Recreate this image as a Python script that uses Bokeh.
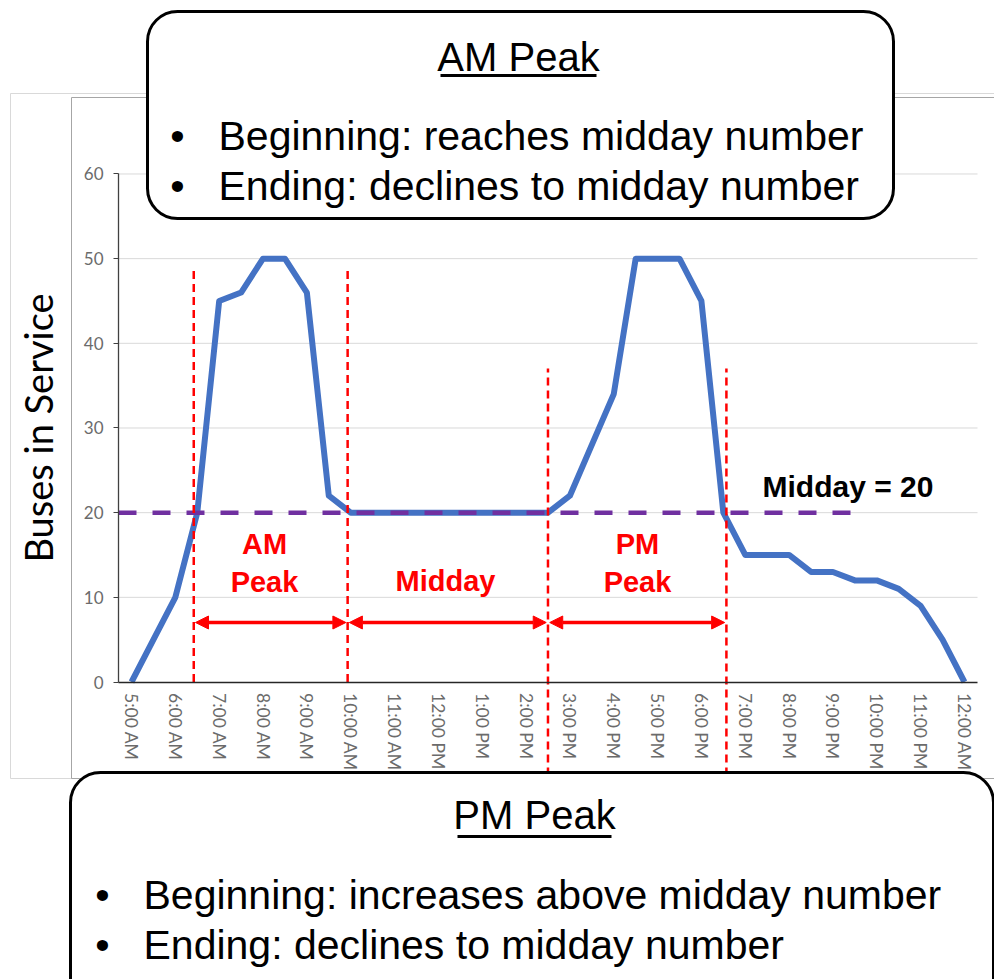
from bokeh.plotting import figure
from bokeh.models import (Range1d, LinearAxis, FixedTicker, BoxAnnotation, Label,
                          Arrow, NormalHead)
from bokeh.embed import file_html
from bokeh.resources import INLINE

# ---------------- data ----------------
hours = [5.0, 5.5, 6.0, 6.5, 7.0, 7.5, 8.0, 8.5, 9.0, 9.5, 10.0, 10.5, 11.0, 11.5,
         12.0, 12.5, 13.0, 13.5, 14.0, 14.5, 15.0, 15.5, 16.0, 16.5, 17.0, 17.5,
         18.0, 18.5, 19.0, 19.5, 20.0, 20.5, 21.0, 21.5, 22.0, 22.5, 23.0, 23.5, 24.0]
buses = [0, 5, 10, 20, 45, 46, 50, 50, 46, 22, 20, 20, 20, 20,
         20, 20, 20, 20, 20, 20, 22, 28, 34, 50, 50, 50,
         45, 20, 15, 15, 15, 13, 13, 12, 12, 11, 9, 5, 0]
tick_hours = [5, 6, 7, 8, 9, 10, 11, 12, 13, 14, 15, 16, 17, 18, 19, 20, 21, 22, 23, 24]
tick_labels = ["5:00 AM", "6:00 AM", "7:00 AM", "8:00 AM", "9:00 AM", "10:00 AM",
               "11:00 AM", "12:00 PM", "1:00 PM", "2:00 PM", "3:00 PM", "4:00 PM",
               "5:00 PM", "6:00 PM", "7:00 PM", "8:00 PM", "9:00 PM", "10:00 PM",
               "11:00 PM", "12:00 AM"]
y_ticks = [0, 10, 20, 30, 40, 50, 60]
midday_value = 20
period_bounds = [6.42, 9.93, 14.5, 18.57]
period_labels = [["AM", "Peak"], ["Midday"], ["PM", "Peak"]]

am_title = "AM Peak"
am_bullets = ["Beginning: reaches midday number", "Ending: declines to midday number"]
pm_title = "PM Peak"
pm_bullets = ["Beginning: increases above midday number", "Ending: declines to midday number"]

# ---------------- layout helpers (page pixels -> data) ----------------
W, H = 994, 979
OFF = 0
X5, PXH = 131.0, 43.84      # page x of 5:00 AM, pixels per hour
Y0, PXU = 681.5, 8.467      # page y of 0 buses, pixels per bus


def hx(px):
    return 5 + (px - X5) / PXH


def vy(py):
    return (Y0 - py) / PXU


def by(base, fs):
    # label anchor for a desired alphabetic baseline at page y "base"
    return vy(base - 0.38 * fs)


p = figure(width=W, height=H,
           x_range=Range1d(hx(OFF), hx(OFF + W)),
           y_range=Range1d(vy(OFF + H), vy(OFF)),
           output_backend="svg", toolbar_location=None, min_border=0,
           x_axis_type=None, y_axis_type=None)
p.outline_line_color = None
p.background_fill_color = "white"
p.border_fill_color = "white"

# chart-area frames
p.quad(left=[hx(10)], right=[hx(1010)], top=[vy(93)], bottom=[vy(778)],
       fill_color=None, line_color="#d9d9d9", line_width=1)
p.quad(left=[hx(71)], right=[hx(1010)], top=[vy(97)], bottom=[vy(778)],
       fill_color=None, line_color="#a6a6a6", line_width=1)

# gridlines
gy = y_ticks[1:]
p.segment(x0=[hx(118)] * len(gy), x1=[hx(977)] * len(gy), y0=gy, y1=gy,
          line_color="#d9d9d9", line_width=1)

# axes
yax = LinearAxis(fixed_location=hx(118), bounds=(y_ticks[0], y_ticks[-1]),
                 ticker=FixedTicker(ticks=y_ticks),
                 axis_label="Buses in Service")
yax.axis_line_color = "#404040"
yax.axis_line_width = 1.3
yax.major_tick_out = 5
yax.major_tick_in = 0
yax.major_tick_line_color = "#404040"
yax.minor_tick_line_color = None
yax.major_label_text_font = "Lato"
yax.major_label_text_font_size = "17px"
yax.major_label_text_color = "#6b6b6b"
yax.major_label_standoff = 10
yax.axis_label_text_font = "Lato"
yax.axis_label_text_font_size = "38px"
yax.axis_label_text_font_style = "normal"
yax.axis_label_text_color = "black"
yax.axis_label_standoff = 20
p.add_layout(yax, "left")

xax = LinearAxis(fixed_location=0, bounds=(hx(118), hx(977)),
                 ticker=FixedTicker(ticks=tick_hours),
                 major_label_overrides={h: l for h, l in zip(tick_hours, tick_labels)},
                 major_label_orientation="vertical")
xax.axis_line_color = "#262626"
xax.axis_line_width = 1.6
xax.major_tick_line_color = None
xax.minor_tick_line_color = None
xax.major_label_text_font = "Lato"
xax.major_label_text_font_size = "17.5px"
xax.major_label_text_color = "#6b6b6b"
xax.major_label_standoff = 5
p.add_layout(xax, "below")

# data line
p.line(hours, buses, line_color="#4472C4", line_width=6, line_join="round")

# midday reference line
p.line([hx(118), hx(862)], [midday_value, midday_value], line_color="#7030A0",
       line_width=4.5, line_dash="18 16")
p.add_layout(Label(x=hx(762), y=by(497, 30), text=f"Midday = {midday_value}",
                   text_font="Liberation Sans", text_font_size="30px",
                   text_font_style="bold", text_color="black",
                   text_align="left", text_baseline="alphabetic"))

# period boundaries
tops = [vy(270), vy(270), vy(368), vy(368)]
bots = [0, 0, vy(775), vy(775)]
p.segment(x0=period_bounds, x1=period_bounds, y0=bots, y1=tops,
          line_color="#FF0000", line_width=2.5, line_dash="8 5")

ay = vy(622)
for i in range(3):
    p.add_layout(Arrow(x_start=period_bounds[i] + 0.04, x_end=period_bounds[i + 1] - 0.04,
                       y_start=ay, y_end=ay, line_color="#FF0000", line_width=3.5,
                       start=NormalHead(size=13, fill_color="#FF0000", line_color="#FF0000"),
                       end=NormalHead(size=13, fill_color="#FF0000", line_color="#FF0000")))

label_cx = [264, 445, 637]
for cx, lines in zip(label_cx, period_labels):
    bases = [592] if len(lines) == 1 else [555, 593]
    for txt, b in zip(lines, bases):
        p.add_layout(Label(x=hx(cx), y=by(b, 29), text=txt, text_font="Liberation Sans",
                           text_font_size="29px", text_font_style="bold",
                           text_color="#FF0000", text_align="center",
                           text_baseline="alphabetic"))

# callout boxes
FONT = "Liberation Sans"
FS_T = 40
FS_B = 41


def callout(left, right, top, bottom, title, title_cx, title_base, ul, bullets,
            bx, tx, bases):
    p.add_layout(BoxAnnotation(left=hx(left), right=hx(right), top=vy(top),
                               bottom=vy(bottom), fill_color="white", fill_alpha=1.0,
                               line_color="black", line_alpha=1.0, line_width=3,
                               border_radius=30))
    p.add_layout(Label(x=hx(title_cx), y=by(title_base, FS_T), text=title, text_font=FONT,
                       text_font_size=f"{FS_T}px", text_color="black", text_align="center",
                       text_baseline="alphabetic"))
    p.segment(x0=[hx(ul[0])], x1=[hx(ul[1])], y0=[vy(ul[2])], y1=[vy(ul[2])],
              line_color="black", line_width=3, level="overlay")
    for txt, b in zip(bullets, bases):
        p.add_layout(Label(x=hx(bx), y=by(b, FS_B), text="\u2022", text_font=FONT,
                           text_font_size=f"{FS_B}px", text_color="black",
                           text_align="center", text_baseline="alphabetic"))
        p.add_layout(Label(x=hx(tx), y=by(b, FS_B), text=txt, text_font=FONT,
                           text_font_size=f"{FS_B}px", text_color="black",
                           text_align="left", text_baseline="alphabetic"))


callout(147, 893, 11, 218, am_title, 518, 72, (440, 596, 75), am_bullets,
        177, 218, [151, 201])
callout(70, 993, 772, 1030, pm_title, 534, 830, (457, 611, 836), pm_bullets,
        102, 143, [910, 960])

open("out.html", "w").write(file_html(p, INLINE))
